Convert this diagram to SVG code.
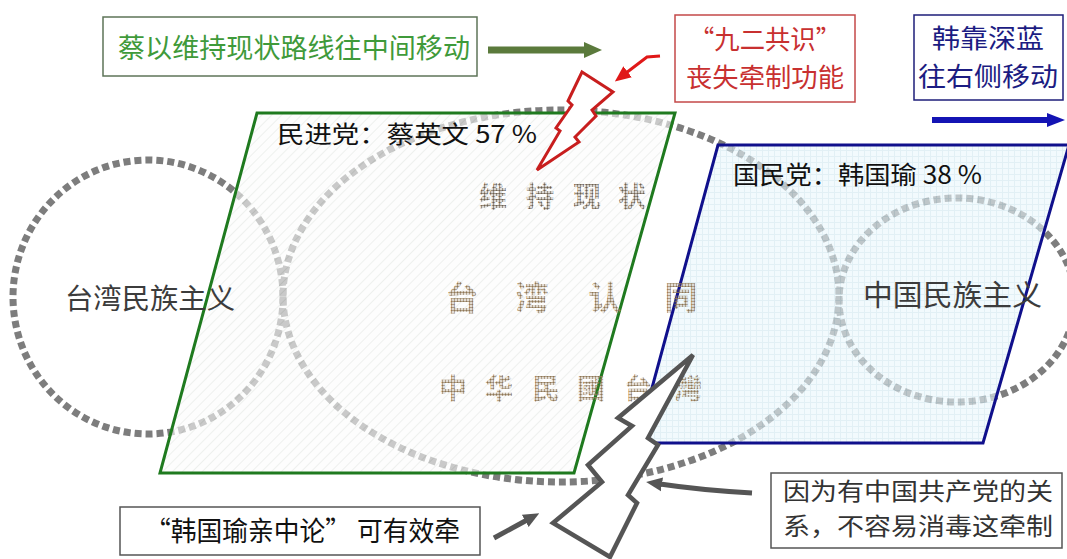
<svg xmlns="http://www.w3.org/2000/svg" width="1067" height="559" viewBox="0 0 1067 559">
<defs>
<style>
.cjk{font-family:"Noto Sans CJK SC","Noto Sans",sans-serif}
.ell{fill:none;stroke:#7d7d7d;stroke-width:7;stroke-dasharray:7 4}
.box{fill:#ffffff;stroke-width:1.5}
.dot{font-family:"Noto Sans CJK SC",sans-serif;font-weight:700;text-anchor:middle}
</style>
<pattern id="hatch" patternUnits="userSpaceOnUse" width="7" height="7" patternTransform="rotate(45)">
<rect width="7" height="7" fill="#fbfcfb"/>
<line x1="0" y1="0" x2="0" y2="7" stroke="#d3d8d3" stroke-width="1.2"/>
</pattern>
<pattern id="grid" patternUnits="userSpaceOnUse" width="6" height="6">
<rect width="6" height="6" fill="#e9f6fb"/>
<path d="M0,0.5H6M0.5,0V6" stroke="#cfe6ef" stroke-width="1"/>
</pattern>
<pattern id="dotsA" patternUnits="userSpaceOnUse" width="3" height="3">
<circle cx="1.5" cy="1.5" r="1.2" fill="#6f6252"/>
</pattern>
<pattern id="dotsB" patternUnits="userSpaceOnUse" width="3" height="3">
<circle cx="1.5" cy="1.5" r="1.2" fill="#8f7756"/>
</pattern>
<marker id="headG" markerUnits="userSpaceOnUse" markerWidth="18" markerHeight="18" refX="2" refY="9" orient="auto">
<path d="M0,1 L18,9 L0,17 Z" fill="#5b7a3c"/>
</marker>
<marker id="headB" markerUnits="userSpaceOnUse" markerWidth="18" markerHeight="18" refX="2" refY="9" orient="auto">
<path d="M0,2 L18,9 L0,16 Z" fill="#1414b4"/>
</marker>
<marker id="headR" markerUnits="userSpaceOnUse" markerWidth="16" markerHeight="16" refX="2" refY="8" orient="auto">
<path d="M0,1 L16,8 L0,15 Z" fill="#e01818"/>
</marker>
<marker id="headK" markerUnits="userSpaceOnUse" markerWidth="16" markerHeight="16" refX="2" refY="8" orient="auto">
<path d="M0,1 L16,8 L0,15 Z" fill="#555555"/>
</marker>
</defs>
<rect width="1067" height="559" fill="#ffffff"/>

<g id="ellipses">
<ellipse id="ell-left" class="ell" cx="148" cy="297" rx="135" ry="137"/>
<ellipse id="ell-mid" class="ell" cx="561" cy="296" rx="278" ry="186"/>
<ellipse id="ell-right" class="ell" cx="957" cy="300" rx="118" ry="102"/>
</g>

<g id="dpp">
<polygon points="257,113 675,113 574,473 160,473" fill="url(#hatch)" fill-opacity="0.6"/>
<polygon points="257,113 675,113 574,473 160,473" fill="none" stroke="#1f7a1f" stroke-width="3"/>
<text class="cjk" x="277" y="143" font-size="24" fill="#111" textLength="260" lengthAdjust="spacingAndGlyphs">民进党：蔡英文 57 %</text>
</g>

<g id="kmt">
<polygon points="718,145 1069,145 983,443 637,443" fill="url(#grid)" fill-opacity="0.6"/>
<polygon points="718,145 1069,145 983,443 637,443" fill="none" stroke="#10108c" stroke-width="3"/>
<text class="cjk" x="733" y="184" font-size="25" fill="#111" textLength="249" lengthAdjust="spacingAndGlyphs">国民党：韩国瑜 38 %</text>
</g>

<g id="labels-ellipses">
<text class="cjk" x="65" y="309" font-size="28" fill="#3c3c3c" textLength="170" lengthAdjust="spacingAndGlyphs">台湾民族主义</text>
<text class="cjk" x="863" y="306" font-size="29" fill="#3c3c3c" textLength="179" lengthAdjust="spacingAndGlyphs">中国民族主义</text>
</g>

<g id="center-texts">
<text class="dot" font-size="28" fill="url(#dotsA)" x="493 540 587 632" y="207 207 207 207">维持现状</text>
<text class="dot" font-size="33" fill="url(#dotsB)" x="462 532 605 681" y="310 310 310 310">台湾认同</text>
<text class="dot" font-size="28" fill="url(#dotsB)" x="453 499 546 591 638 688" y="399 399 399 399 399 399">中华民國台灣</text>
</g>

<g id="bolt-red">
<polygon points="582,72 613,92 592,110 596,116 575,137 579,142 537,170 560,131 556,128 572,105 568,101" fill="#ffffff" stroke="#c81e1e" stroke-width="3" stroke-linejoin="miter"/>
</g>

<g id="bolt-gray">
<polygon points="693,355 618,418 632,426 588,465 602,482 553,523 610,557 637,503 628,495 658,445 648,438" fill="#ffffff" stroke="#555555" stroke-width="4.5" stroke-linejoin="miter"/>
</g>

<g id="box-tsai">
<rect class="box" x="103" y="17" width="374" height="59" stroke="#5e7458"/>
<text class="cjk" x="118" y="58" font-size="27" fill="#3f9a3a" textLength="352" lengthAdjust="spacingAndGlyphs">蔡以维持现状路线往中间移动</text>
</g>

<g id="box-92">
<rect class="box" x="675" y="15" width="180" height="87" stroke="#c44848"/>
<text class="cjk" x="765" y="49" font-size="26" fill="#c83030" text-anchor="middle" textLength="152" lengthAdjust="spacingAndGlyphs">“九二共识”</text>
<text class="cjk" x="765" y="87" font-size="26" fill="#c83030" text-anchor="middle" textLength="158" lengthAdjust="spacingAndGlyphs">丧失牵制功能</text>
</g>

<g id="box-han">
<rect class="box" x="914" y="15" width="149" height="85" stroke="#1e1e7a"/>
<text class="cjk" x="988" y="48" font-size="26" fill="#1c1c82" text-anchor="middle" textLength="112" lengthAdjust="spacingAndGlyphs">韩靠深蓝</text>
<text class="cjk" x="988" y="86" font-size="26" fill="#1c1c82" text-anchor="middle" textLength="140" lengthAdjust="spacingAndGlyphs">往右侧移动</text>
</g>

<g id="box-pro-china">
<rect class="box" x="120" y="507" width="360" height="48" stroke="#555555"/>
<text class="cjk" x="145" y="541" font-size="27" fill="#111" textLength="315" lengthAdjust="spacingAndGlyphs">“韩国瑜亲中论” 可有效牵</text>
</g>

<g id="box-ccp">
<rect class="box" x="771" y="473" width="291" height="75" stroke="#555555"/>
<text class="cjk" x="783" y="500" font-size="24" fill="#333" textLength="270" lengthAdjust="spacingAndGlyphs">因为有中国共产党的关</text>
<text class="cjk" x="783" y="535" font-size="24" fill="#333" textLength="270" lengthAdjust="spacingAndGlyphs">系，不容易消毒这牵制</text>
</g>

<g id="connectors" fill="none">
<line x1="488" y1="50" x2="586" y2="50" stroke="#5b7a3c" stroke-width="7" marker-end="url(#headG)"/>
<line x1="932" y1="120" x2="1049" y2="120" stroke="#1414b4" stroke-width="6" marker-end="url(#headB)"/>
<path d="M660,56 L647,57 L626,73" stroke="#e01818" stroke-width="3" marker-end="url(#headR)"/>
<line x1="494" y1="538" x2="527" y2="520" stroke="#555555" stroke-width="5" marker-end="url(#headK)"/>
<path d="M752,493 Q700,490 660,484" stroke="#555555" stroke-width="5" marker-end="url(#headK)"/>
</g>
</svg>
